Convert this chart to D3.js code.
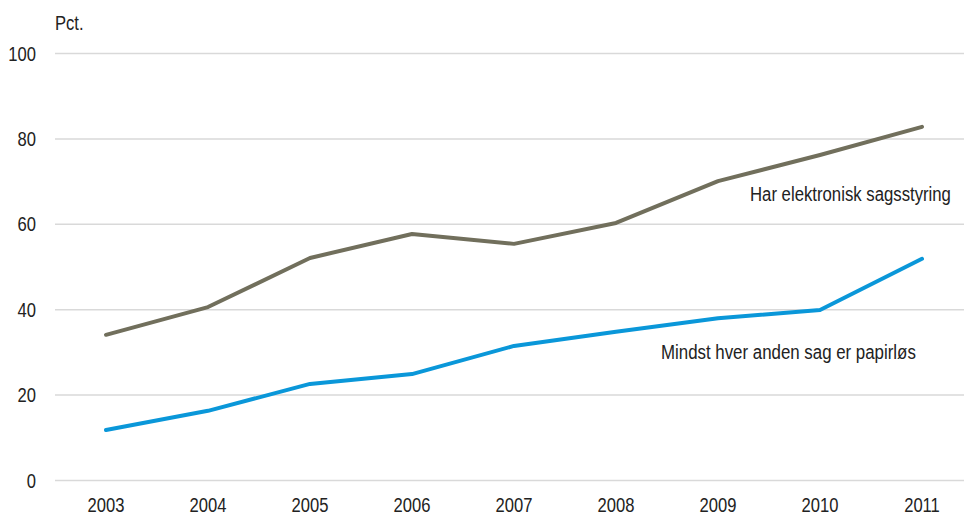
<!DOCTYPE html>
<html><head><meta charset="utf-8">
<script src="https://cdn.jsdelivr.net/npm/d3@7"></script>
<style>body{margin:0;background:#fff}svg{display:block}</style>
</head><body>
<script>
const years = ["2003","2004","2005","2006","2007","2008","2009","2010","2011"];
const seriesNames = ["Har elektronisk sagsstyring","Mindst hver anden sag er papirløs"];
const elektronisk = [34.0,40.5,52.0,57.6,55.3,60.2,70.0,76.1,82.7];
const papirlos = [11.7,16.2,22.5,24.8,31.4,34.7,37.9,39.8,51.8];
const yTicks = [0,20,40,60,80,100];
const colors = ["#716f5c","#0a97d9"];

const W=964,H=515;
const FONT="'Liberation Sans',Arial,sans-serif";
const FS=21, SX=0.79;
const svg=d3.select("body").append("svg").attr("width",W).attr("height",H);
const x=d3.scalePoint().domain(years).range([106,922]);
const y=d3.scaleLinear().domain([0,100]).range([480,53]);

function label(tx,ty,str,anchor,targetW){
  const t=svg.append("text")
    .attr("text-anchor",anchor||"start")
    .attr("font-family",FONT).attr("font-size",FS).attr("fill","#222")
    .text(str);
  let sx=SX;
  if(targetW){ const w=t.node().getComputedTextLength(); if(w>0) sx=targetW/w; }
  t.attr("transform",`translate(${tx},${ty}) scale(${sx},1)`);
  return t;
}

const yAxis=svg.append("g").attr("transform","translate(55,0)")
  .call(d3.axisLeft(y).tickValues(yTicks).tickSize(-918).tickFormat(""));
yAxis.select(".domain").remove();
yAxis.selectAll("line").attr("stroke","#d9d9d9").attr("stroke-width",1.5);
yTicks.forEach(t=>label(36,y(t)+7.5,String(t),"end"));

years.forEach(yr=>label(x(yr),512,yr,"middle"));

label(55,30,"Pct.","start");

const line=d3.line().x((d,i)=>x(years[i])).y(d=>y(d));
[elektronisk,papirlos].forEach((s,k)=>{
  svg.append("path").datum(s).attr("d",line).attr("fill","none")
    .attr("stroke",colors[k]).attr("stroke-width",4).attr("stroke-linecap","round").attr("stroke-linejoin","round");
});

const labelPos=[[750,201],[661,359]];
const labelW=[201,255];
seriesNames.forEach((n,k)=>label(labelPos[k][0],labelPos[k][1],n,"start",labelW[k]));
</script>
</body></html>
